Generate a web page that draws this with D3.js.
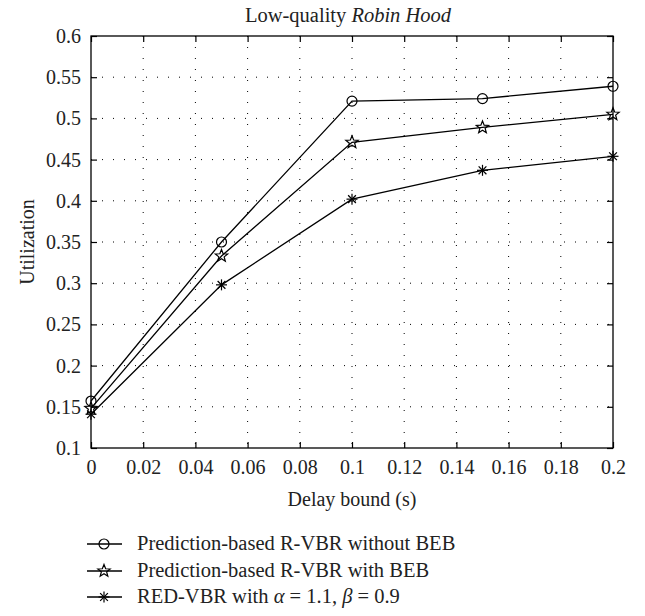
<!DOCTYPE html>
<html><head><meta charset="utf-8">
<script src="https://cdn.jsdelivr.net/npm/d3@7"></script>
<style>body{margin:0;background:#fff}svg{display:block}svg text{font-family:"Liberation Serif","DejaVu Serif",serif !important;fill:#222}</style>
</head><body>
<script>
const delays = [0, 0.05, 0.1, 0.15, 0.2];
const withoutBEB = [0.157, 0.350, 0.521, 0.524, 0.539];
const withBEB = [0.148, 0.333, 0.471, 0.489, 0.505];
const redVBR = [0.141, 0.298, 0.402, 0.437, 0.454];
const xTicks = [0,0.02,0.04,0.06,0.08,0.1,0.12,0.14,0.16,0.18,0.2];
const yTicks = [0.1,0.15,0.2,0.25,0.3,0.35,0.4,0.45,0.5,0.55,0.6];
const seriesNames = ["Prediction-based R-VBR without BEB","Prediction-based R-VBR with BEB","RED-VBR"];
const markers = ["circle","star","asterisk"];

const W=645,H=616, L=91,R=613,T=36,B=448;
const FF='"Liberation Serif","DejaVu Serif",serif';
const svg=d3.select("body").append("svg").attr("width",W).attr("height",H).attr("font-family",FF);
const x=d3.scaleLinear().domain([0,0.2]).range([L,R]);
const y=d3.scaleLinear().domain([0.1,0.6]).range([B,T]);

// grid
const g=svg.append("g");
g.selectAll(".vg").data(xTicks.slice(1,-1)).join("line")
 .attr("x1",d=>x(d)).attr("x2",d=>x(d)).attr("y1",T).attr("y2",B)
 .attr("stroke","#000").attr("stroke-width",1).attr("stroke-dasharray","1,10");
g.selectAll(".hg").data(yTicks.slice(1,-1)).join("line")
 .attr("x1",L).attr("x2",R).attr("y1",d=>y(d)).attr("y2",d=>y(d))
 .attr("stroke","#000").attr("stroke-width",1).attr("stroke-dasharray","1,10");

// axes
const ax=d3.axisBottom(x).tickValues(xTicks).tickSize(-6).tickPadding(12).tickFormat(d=>d3.format("~g")(d));
const ay=d3.axisLeft(y).tickValues(yTicks).tickSize(-6).tickPadding(10).tickFormat(d=>d3.format("~g")(d));
const gx=svg.append("g").attr("transform",`translate(0,${B})`).call(ax);
const gy=svg.append("g").attr("transform",`translate(${L},0)`).call(ay);
const gx2=svg.append("g").attr("transform",`translate(0,${T})`).call(d3.axisTop(x).tickValues(xTicks).tickSize(-6).tickFormat(""));
const gy2=svg.append("g").attr("transform",`translate(${R},0)`).call(d3.axisRight(y).tickValues(yTicks).tickSize(-6).tickFormat(""));
[gx,gy,gx2,gy2].forEach(a=>{a.attr("font-family",FF).attr("font-size",20);a.select(".domain").remove();a.selectAll("line").attr("stroke","#000").attr("stroke-width",1.2);a.selectAll("text").attr("fill","#222");});
gx.selectAll("text").attr("dy","0.71em");
svg.append("rect").attr("x",L).attr("y",T).attr("width",R-L).attr("height",B-T).attr("fill","none").attr("stroke","#000").attr("stroke-width",1.3);

// markers
function drawMarker(sel,type,cx,cy){
  if(type==="circle"){
    sel.append("circle").attr("cx",cx).attr("cy",cy).attr("r",5).attr("fill","none").attr("stroke","#000").attr("stroke-width",1.2);
  } else if(type==="star"){
    const pts=[];
    for(let i=0;i<10;i++){const a=-Math.PI/2+i*Math.PI/5;const r=i%2?2.8:6.5;pts.push([cx+r*Math.cos(a),cy+r*Math.sin(a)]);}
    sel.append("polygon").attr("points",pts.map(p=>p.join(",")).join(" ")).attr("fill","none").attr("stroke","#000").attr("stroke-width",1.2);
  } else {
    const r=5.5;
    for(let i=0;i<4;i++){const a=i*Math.PI/4;
      sel.append("line").attr("x1",cx-r*Math.cos(a)).attr("y1",cy-r*Math.sin(a)).attr("x2",cx+r*Math.cos(a)).attr("y2",cy+r*Math.sin(a)).attr("stroke","#000").attr("stroke-width",1.2);}
  }
}
const line=d3.line().x((d,i)=>x(delays[i])).y(d=>y(d));
[withoutBEB,withBEB,redVBR].forEach((s,k)=>{
  svg.append("path").attr("d",line(s)).attr("fill","none").attr("stroke","#000").attr("stroke-width",1.3);
  const mg=svg.append("g");
  s.forEach((v,i)=>drawMarker(mg,markers[k],x(delays[i]),y(v)));
});

// labels
svg.append("text").attr("x",(L+R)/2-4).attr("y",22).attr("text-anchor","middle").attr("font-size",20.5)
  .call(t=>{t.append("tspan").text("Low-quality ");t.append("tspan").attr("font-style","italic").text("Robin Hood");});
svg.append("text").attr("x",(L+R)/2).attr("y",506).attr("text-anchor","middle").attr("font-size",20).text("Delay bound (s)");
svg.append("text").attr("transform",`translate(34,${(T+B)/2}) rotate(-90)`).attr("text-anchor","middle").attr("font-size",20).text("Utilization");

// legend
const ly=[544,571,597];
seriesNames.forEach((n,k)=>{
  svg.append("line").attr("x1",87).attr("x2",122).attr("y1",ly[k]).attr("y2",ly[k]).attr("stroke","#000").attr("stroke-width",1.3);
  drawMarker(svg.append("g"),markers[k],104,ly[k]);
  const t=svg.append("text").attr("x",137).attr("y",ly[k]+6).attr("font-size",20.5);
  if(k<2) t.text(n);
  else {
    t.append("tspan").text("RED-VBR with ");
    t.append("tspan").attr("font-style","italic").text("α");
    t.append("tspan").text(" = 1.1, ");
    t.append("tspan").attr("font-style","italic").text("β");
    t.append("tspan").text(" = 0.9");
  }
});
</script>
</body></html>
